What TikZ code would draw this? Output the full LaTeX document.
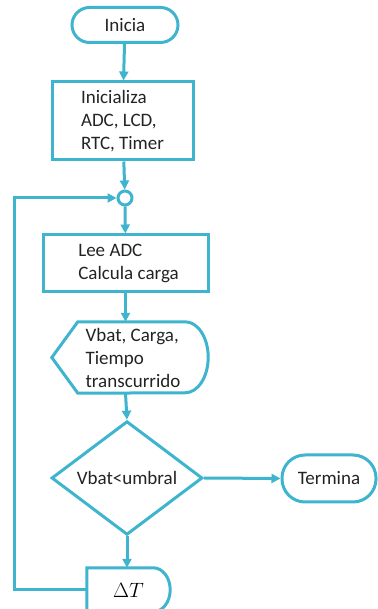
\documentclass[tikz,border=0pt]{standalone}
\usepackage{fontspec}
\setmainfont{Carlito}
\usetikzlibrary{arrows.meta,shapes.geometric,positioning,calc}
\definecolor{flowcyan}{RGB}{62,180,206}
\definecolor{flowtext}{RGB}{35,35,35}

\tikzset{
  flow/.style={draw=flowcyan, line width=3pt},
  arrow/.style={flow, -{Triangle[length=9pt,width=9pt]}},
  box/.style={flow, rectangle, align=left, text=flowtext},
  term/.style={flow, rectangle, rounded corners=#1, text=flowtext},
}

\begin{document}
\begin{tikzpicture}[x=1pt,y=1pt,font=\fontsize{19}{23}\selectfont]
            \useasboundingbox (0,0) rectangle (377,609);

            % Start and initialisation
            \node[term=17.5pt, minimum width=106pt, minimum height=35pt] (inicia) at (125,584) {Inicia};
            \node[box, minimum width=141pt, minimum height=78pt] (init) at (122.5,488) {Inicializa\\ADC, LCD,\\RTC, Timer};

            % Junction of the loop
            \node[flow, circle, minimum size=14pt, inner sep=0pt] (join) at (125,411) {};

            % Read and compute
            \node[box, minimum width=165pt, minimum height=57pt] (lee) at (125.5,345.5) {\hspace*{6pt}Lee ADC\\\hspace*{6pt}Calcula carga};

            % Display
            \node[align=left, text=flowtext, minimum width=156pt, minimum height=71pt, inner sep=0pt] (disp) at (130,251.5) {\hspace*{6pt}Vbat, Carga,\\\hspace*{6pt}Tiempo\\\hspace*{6pt}transcurrido};
            \draw[flow] (disp.west) -- ($(disp.north west)+(26,0)$) -- ($(disp.north east)+(-23,0)$)
                arc[start angle=90, end angle=-90, x radius=23pt, y radius=35.5pt]
                -- ($(disp.south west)+(26,0)$) -- cycle;

            % Decision
            \node[flow, diamond, minimum width=151pt, minimum height=95pt, inner sep=0pt, text=flowtext] (cond) at (127,131) {Vbat<umbral};
            \node[term=23pt, minimum width=94pt, minimum height=47pt] (termina) at (329,130.5) {Termina};

            % Delay
            \node[minimum width=83pt, minimum height=44pt, inner sep=0pt, font=\fontsize{22}{22}\selectfont] (delta) at (128.5,19) {$\Delta T$};
            \draw[flow] (delta.north west) -- ($(delta.north east)+(-17,0)$)
                arc[start angle=90, end angle=-90, x radius=17pt, y radius=22pt]
                -- (delta.south west) -- cycle;

            % Connectors
            \draw[arrow] (inicia) -- (init);
            \draw[arrow] (init) -- (join);
            \draw[arrow] (join) -- (lee);
            \draw[arrow] (lee.south) -- (lee.south |- disp.north);
            \draw[arrow] (disp.south -| lee.south) -- (cond.north);
            \draw[arrow] (cond.east) -- (termina.west);
            \draw[arrow] (cond.south) -- (cond.south |- delta.north);

            % Loop back
            \coordinate (loopcorner) at (14,19);
            \draw[arrow] (delta.west) -- (loopcorner) |- (join.west);
        \end{tikzpicture}
\end{document}
